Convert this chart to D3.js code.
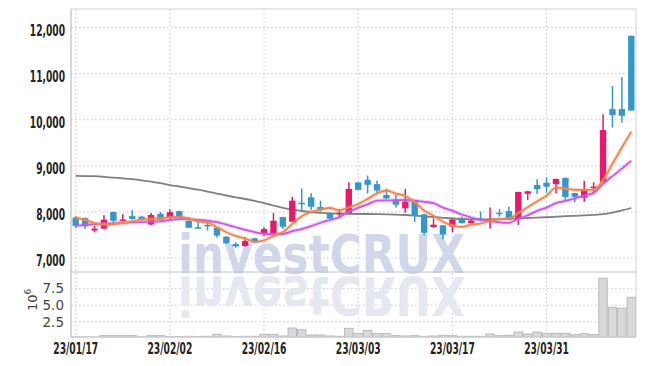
<!DOCTYPE html>
<html>
<head>
<meta charset="utf-8">
<script src="https://cdn.jsdelivr.net/npm/d3@7"></script>
<style>
  body { margin: 0; background: #fff; }
  svg { display: block; }
</style>
</head>
<body>
<div id="chart"></div>
<script>
// trading days shown on the chart
var dates = ["23/01/17","23/01/18","23/01/19","23/01/20","23/01/25","23/01/26","23/01/27","23/01/30","23/01/31","23/02/01",
  "23/02/02","23/02/03","23/02/06","23/02/07","23/02/08","23/02/09","23/02/10","23/02/13","23/02/14","23/02/15",
  "23/02/16","23/02/17","23/02/20","23/02/21","23/02/22","23/02/23","23/02/24","23/02/27","23/02/28","23/03/02",
  "23/03/03","23/03/06","23/03/07","23/03/08","23/03/09","23/03/10","23/03/13","23/03/14","23/03/15","23/03/16",
  "23/03/17","23/03/20","23/03/21","23/03/22","23/03/23","23/03/24","23/03/27","23/03/28","23/03/29","23/03/30",
  "23/03/31","23/04/03","23/04/04","23/04/05","23/04/06","23/04/07","23/04/10","23/04/11","23/04/12","23/04/13"];

var open = [7880,7870,7600,7640,8000,7825,7910,7900,7730,7960, 7885,8020,7805,7670,7720,7660,7465,7305,7265,7430,
  7540,7510,7890,7790,8200,8320,8110,7970,7955,7970, 8640,8700,8605,8370,8275,8080,8240,7950,7675,7710,
  7685,7830,7760,7850,7815,7985,8020,7850,8395,8585, 8635,8605,8740,8410,8310,8525,8645,10230,10230,11820];
var high = [7910,7880,7700,7930,8010,7950,8040,7920,7980,8000, 8060,8025,7885,7810,7810,7670,7480,7345,7460,7440,
  7670,7980,7900,8330,8510,8405,8245,8000,8065,8645, 8650,8790,8680,8500,8370,8500,8250,7960,7860,7720,
  7850,7900,7830,8010,8100,8060,8120,8440,8460,8710, 8750,8720,8745,8415,8680,8645,10120,10730,10920,11820];
var low = [7650,7640,7560,7630,7740,7800,7830,7820,7720,7820, 7830,7865,7655,7630,7600,7450,7310,7225,7250,7330,
  7480,7490,7640,7780,8040,8045,8010,7845,7880,7960, 8470,8400,8400,8280,8100,7985,7785,7500,7665,7410,
  7565,7750,7750,7810,7645,7900,7820,7720,8260,8390, 8420,8405,8260,8210,8225,8385,8640,9830,9935,10200];
var close = [7700,7690,7640,7835,7810,7840,7850,7830,7935,7830, 7995,7870,7660,7645,7695,7490,7320,7255,7370,7340,
  7630,7810,7680,8245,8170,8115,8050,7855,7985,8500, 8480,8590,8465,8295,8160,8225,7935,7550,7725,7510,
  7835,7760,7815,7820,7850,7955,7830,8435,8450,8495, 8550,8715,8325,8330,8475,8550,9775,10100,10085,10200];
var volume = [150000,150000,180000,400000,400000,400000,400000,180000,400000,400000,
  250000,250000,300000,250000,300000,600000,350000,250000,300000,300000,
  600000,600000,350000,1550000,1300000,500000,500000,350000,300000,1500000,
  750000,1200000,750000,700000,400000,350000,400000,300000,350000,450000,
  400000,300000,300000,300000,650000,400000,450000,950000,650000,950000,
  750000,750000,750000,550000,700000,550000,9050000,4680000,4530000,6190000];

// moving average lines as drawn
var ma5 = [7880,7830,7760,7730,7735,7763,7795,7833,7853,7857, 7888,7892,7858,7800,7773,7672,7562,7481,7426,7355,
  7383,7481,7566,7741,7907,8004,8052,8087,8035,8101, 8174,8282,8404,8466,8398,8347,8216,8033,7919,7789,
  7711,7676,7729,7748,7816,7840,7854,7978,8104,8233, 8352,8529,8507,8483,8479,8479,8691,9046,9397,9742];
var ma10 = [7705,7720,7735,7745,7755,7765,7775,7780,7790,7796, 7826,7844,7846,7827,7815,7780,7727,7670,7613,7564,
  7528,7522,7524,7584,7631,7694,7767,7827,7888,8004, 8089,8167,8246,8251,8250,8261,8249,8219,8193,8094,
  8029,7946,7881,7834,7803,7776,7765,7854,7926,8025, 8096,8192,8243,8294,8356,8416,8610,8777,8940,9111];
var maLong = [8785,8780,8776,8763,8746,8730,8711,8687,8659,8624, 8585,8553,8520,8483,8444,8401,8358,8319,8282,8239,
  8195,8141,8091,8050,8022,8000,7983,7972,7965,7961, 7957,7957,7955,7950,7944,7935,7922,7907,7892,7875,
  7859,7849,7842,7840,7842,7846,7853,7861,7870,7879, 7887,7898,7909,7918,7926,7937,7953,7987,8033,8087];

var priceTicks = [7000, 8000, 9000, 10000, 11000, 12000];
var volTicks = [2500000, 5000000, 7500000];
var dateTicks = ["23/01/17","23/02/02","23/02/16","23/03/03","23/03/17","23/03/31"];

(function() {
  var width = 645, height = 366;
  var left = 71, right = 636, top = 9, priceBottom = 272, volBottom = 337;
  var upColor = "#e6196a", downColor = "#3398c9";
  var gridColor = "#c5c9dc";
  var labelFont = "'DejaVu Sans Condensed', 'DejaVu Sans', sans-serif";

  // narrow label widths: digits wide, punctuation half
  function narrowLen(s) {
    var n = 0;
    for (var k = 0; k < s.length; k++) n += /[0-9]/.test(s[k]) ? 6.4 : 3.2;
    return n;
  }

  var svg = d3.select("#chart").append("svg")
    .attr("width", width).attr("height", height);

  var x = d3.scaleBand().domain(dates).range([left, right]).padding(0);
  var y = d3.scaleLinear().domain([6700, 12400]).range([priceBottom, top]);
  var yv = d3.scaleLinear().domain([200000, 10000000]).range([volBottom, priceBottom]);
  var cx = function(i) { return x(dates[i]) + x.bandwidth() / 2; };

  var defs = svg.append("defs");
  defs.append("clipPath").attr("id", "clip-price").append("rect")
    .attr("x", left).attr("y", top).attr("width", right - left).attr("height", priceBottom - top);
  defs.append("clipPath").attr("id", "clip-vol").append("rect")
    .attr("x", left).attr("y", priceBottom).attr("width", right - left).attr("height", volBottom - priceBottom);

  // grid
  var grid = svg.append("g");
  grid.selectAll("line.hp").data(priceTicks).enter().append("line")
    .attr("x1", left).attr("x2", right)
    .attr("y1", function(d) { return y(d); }).attr("y2", function(d) { return y(d); })
    .attr("stroke", gridColor).attr("stroke-dasharray", "1.5,2.5");
  grid.selectAll("line.hv").data(volTicks).enter().append("line")
    .attr("x1", left).attr("x2", right)
    .attr("y1", function(d) { return yv(d); }).attr("y2", function(d) { return yv(d); })
    .attr("stroke", gridColor).attr("stroke-dasharray", "1.5,2.5");
  grid.selectAll("line.v").data(dateTicks).enter().append("line")
    .attr("x1", function(d) { return x(d) + x.bandwidth() / 2; })
    .attr("x2", function(d) { return x(d) + x.bandwidth() / 2; })
    .attr("y1", top).attr("y2", volBottom)
    .attr("stroke", gridColor).attr("stroke-dasharray", "1.5,2.5");

  // watermark + reflection
  var wm = svg.append("g");
  wm.append("text").attr("x", 178).attr("y", 273)
    .attr("font-family", "'DejaVu Sans', sans-serif").attr("font-weight", "bold")
    .attr("font-size", 53).attr("textLength", 287).attr("lengthAdjust", "spacingAndGlyphs")
    .attr("fill", "#d2d6ea").text("investCRUX");
  wm.append("text").attr("x", 178).attr("y", 273)
    .attr("transform", "translate(0,550) scale(1,-1)")
    .attr("font-family", "'DejaVu Sans', sans-serif").attr("font-weight", "bold")
    .attr("font-size", 53).attr("textLength", 287).attr("lengthAdjust", "spacingAndGlyphs")
    .attr("fill", "#e5e7f1").text("investCRUX");

  // volume bars
  svg.append("g").attr("clip-path", "url(#clip-vol)")
    .selectAll("rect").data(volume).enter().append("rect")
    .attr("x", function(d, i) { return x(dates[i]) + 0.5; })
    .attr("width", x.bandwidth() - 1)
    .attr("y", function(d) { return yv(d); })
    .attr("height", function(d) { return Math.max(0, volBottom - yv(d) + 2); })
    .attr("fill", "#d9d9dc").attr("stroke", "#b9b9be").attr("stroke-width", 1);

  // frame
  var frame = svg.append("g").attr("fill", "none");
  frame.append("rect").attr("x", left).attr("y", top)
    .attr("width", right - left).attr("height", volBottom - top)
    .attr("stroke", "#d4d4d8");
  frame.append("line").attr("x1", left).attr("x2", right)
    .attr("y1", priceBottom).attr("y2", priceBottom).attr("stroke", "#c4c4c8");
  frame.append("line").attr("x1", left).attr("x2", right)
    .attr("y1", volBottom).attr("y2", volBottom).attr("stroke", "#c4c4c8");
  frame.append("line").attr("x1", left).attr("x2", left)
    .attr("y1", top).attr("y2", volBottom).attr("stroke", "#c4c4c8");

  var plot = svg.append("g").attr("clip-path", "url(#clip-price)");

  // moving averages
  function drawLine(values, color, w, glow) {
    var line = d3.line()
      .x(function(d, i) { return cx(i); })
      .y(function(d) { return y(d); })
      .curve(d3.curveMonotoneX);
    if (glow) {
      plot.append("path").datum(values).attr("d", line)
        .attr("fill", "none").attr("stroke", color).attr("stroke-opacity", 0.25)
        .attr("stroke-width", w + 2.5);
    }
    plot.append("path").datum(values).attr("d", line)
      .attr("fill", "none").attr("stroke", color).attr("stroke-width", w);
  }
  drawLine(maLong, "#808080", 1.8, false);

  // candles
  var candles = plot.selectAll("g.candle").data(dates).enter().append("g");
  candles.append("line")
    .attr("x1", function(d, i) { return cx(i); })
    .attr("x2", function(d, i) { return cx(i); })
    .attr("y1", function(d, i) { return y(high[i]); })
    .attr("y2", function(d, i) { return y(low[i]); })
    .attr("stroke", function(d, i) { return close[i] >= open[i] ? upColor : downColor; })
    .attr("stroke-width", 1.5);
  candles.append("rect")
    .attr("x", function(d, i) { return cx(i) - x.bandwidth() * 0.34; })
    .attr("width", x.bandwidth() * 0.68)
    .attr("y", function(d, i) { return y(Math.max(open[i], close[i])); })
    .attr("height", function(d, i) { return Math.max(1.5, Math.abs(y(open[i]) - y(close[i]))); })
    .attr("fill", function(d, i) { return close[i] >= open[i] ? upColor : downColor; });

  drawLine(ma10, "#c75ae4", 1.8, true);
  drawLine(ma5, "#ef8650", 1.8, true);

  // axes
  var yAxis = svg.append("g").attr("transform", "translate(" + left + ",0)")
    .call(d3.axisLeft(y).tickValues(priceTicks).tickFormat(d3.format(",")).tickSize(0).tickPadding(6));
  yAxis.select(".domain").remove();
  yAxis.selectAll("text").attr("font-family", labelFont).attr("font-weight", "bold")
    .attr("font-size", 15.5).attr("fill", "#222").attr("dy", "0.5em")
    .attr("textLength", function() { return narrowLen(this.textContent); })
    .attr("lengthAdjust", "spacingAndGlyphs");

  var vAxis = svg.append("g").attr("transform", "translate(" + left + ",0)")
    .call(d3.axisLeft(yv).tickValues(volTicks).tickFormat(function(d) { return (d / 1e6).toFixed(1); })
      .tickSize(0).tickPadding(7));
  vAxis.select(".domain").remove();
  vAxis.selectAll("text").attr("font-family", "'DejaVu Sans', sans-serif")
    .attr("font-size", 13.5).attr("fill", "#444");

  var unit = svg.append("text").attr("transform", "translate(37,311) rotate(-90)")
    .attr("font-family", "'DejaVu Sans', sans-serif").attr("font-size", 13).attr("fill", "#444");
  unit.append("tspan").text("10");
  unit.append("tspan").attr("dy", -6).attr("font-size", 9).text("6");

  var xAxis = svg.append("g").attr("transform", "translate(0," + volBottom + ")")
    .call(d3.axisBottom(x).tickValues(dateTicks).tickSize(0).tickPadding(6));
  xAxis.select(".domain").remove();
  xAxis.selectAll("text").attr("font-family", labelFont).attr("font-weight", "bold")
    .attr("font-size", 15.5).attr("fill", "#222")
    .attr("textLength", function() { return narrowLen(this.textContent); })
    .attr("lengthAdjust", "spacingAndGlyphs");
})();
</script>
</body>
</html>
